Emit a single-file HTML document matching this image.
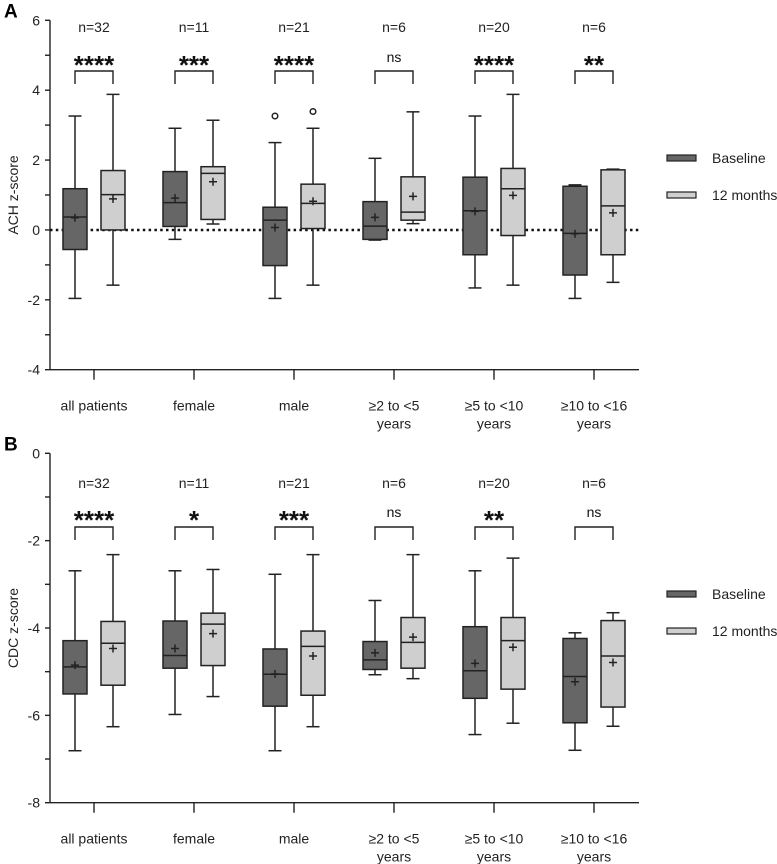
<!DOCTYPE html>
<html><head><meta charset="utf-8"><style>
body{margin:0;background:#fff}
svg{display:block;font-family:"Liberation Sans",sans-serif}
</style></head><body>
<svg id="c" width="777" height="864" viewBox="0 0 777 864"></svg>
<script>
const categories=[["all patients"],["female"],["male"],["≥2 to <5","years"],["≥5 to <10","years"],["≥10 to <16","years"]];
const nLabels=["n=32","n=11","n=21","n=6","n=20","n=6"];
const sigA=["****","***","****","ns","****","**"];
const sigB=["****","*","***","ns","**","ns"];
// [whiskerLow, q1, median, q3, whiskerHigh, mean]
const achBaseline=[[-1.96,-0.56,0.37,1.18,3.26,0.35],[-0.27,0.1,0.78,1.67,2.91,0.91],[-1.96,-1.02,0.28,0.65,2.5,0.07],[-0.29,-0.27,0.11,0.81,2.05,0.36],[-1.66,-0.71,0.55,1.51,3.26,0.53],[-1.96,-1.29,-0.1,1.25,1.29,-0.11]];
const ach12=[[-1.58,0,1.01,1.7,3.88,0.89],[0.17,0.3,1.62,1.81,3.14,1.38],[-1.58,0.04,0.76,1.31,2.91,0.82],[0.18,0.28,0.51,1.52,3.38,0.96],[-1.58,-0.16,1.18,1.76,3.88,0.99],[-1.5,-0.71,0.69,1.72,1.74,0.49]];
const achOutBaseline=[[],[],[3.26],[],[],[]];
const achOut12=[[],[],[3.39],[],[],[]];
const cdcBaseline=[[-6.81,-5.51,-4.89,-4.29,-2.69,-4.85],[-5.98,-4.92,-4.63,-3.84,-2.69,-4.47],[-6.81,-5.79,-5.06,-4.48,-2.77,-5.05],[-5.07,-4.95,-4.73,-4.31,-3.37,-4.57],[-6.44,-5.61,-4.98,-3.97,-2.69,-4.81],[-6.8,-6.17,-5.11,-4.24,-4.11,-5.23]];
const cdc12=[[-6.26,-5.31,-4.35,-3.85,-2.32,-4.47],[-5.57,-4.86,-3.91,-3.66,-2.66,-4.13],[-6.26,-5.54,-4.42,-4.07,-2.32,-4.64],[-5.16,-4.92,-4.33,-3.76,-2.32,-4.21],[-6.18,-5.4,-4.29,-3.76,-2.4,-4.44],[-6.25,-5.81,-4.64,-3.83,-3.65,-4.79]];
const ticksA=[6,4,2,0,-2,-4];
const ticksB=[0,-2,-4,-6,-8];

const svg=document.getElementById('c');
const NS='http://www.w3.org/2000/svg';
function mk(tag,at,parent,txt){const e=document.createElementNS(NS,tag);for(const k in at)e.setAttribute(k,at[k]);if(txt!==undefined)e.textContent=txt;(parent||svg).appendChild(e);return e;}

function panel(o){
  const g=mk('g',{});
  
  
  const y=v=>o.y0+(o.max-v)/(o.max-o.min)*(o.y1-o.y0);
  const xc=i=>94+100*i;
  const L=mk('text',{x:4,y:o.y0-3,'font-size':19,'font-weight':'bold'},g,o.letter);
  
  
  const ax=mk('g',{stroke:'#222','stroke-width':1.4},g);
  
  
  mk('line',{x1:50,y1:o.y0,x2:50,y2:o.y1},ax);
  mk('line',{x1:50,y1:o.y1,x2:639,y2:o.y1},ax);
  for(let v=o.min;v<=o.max;v++){mk('line',{x1:45,x2:50,y1:y(v),y2:y(v)},ax);}
  o.ticks.forEach(t=>{const e=mk('text',{x:40,y:y(t)+5,'font-size':14,'text-anchor':'end',fill:'#222'},g,String(t));
    
    });
  const yt=mk('text',{x:0,y:0,'font-size':14,'text-anchor':'middle',fill:'#222',transform:`translate(18,${(o.y0+o.y1)/2}) rotate(-90)`},g,o.title);
  
  
  if(o.zero){const z=mk('line',{x1:50,x2:639,y1:y(0),y2:y(0),stroke:'#111','stroke-width':2.5,'stroke-dasharray':'2.5 3.3'},g);
    
    }
  categories.forEach((c,i)=>{
    mk('line',{x1:xc(i),x2:xc(i),y1:o.y1,y2:o.y1+10,stroke:'#222','stroke-width':1.4},g);
    c.forEach((s,j)=>{const t=mk('text',{x:xc(i),y:o.y1+41+j*18,'font-size':14,'text-anchor':'middle',fill:'#222'},g,s);
      
      });
    const n=mk('text',{x:xc(i),y:o.nY,'font-size':14,'text-anchor':'middle',fill:'#222'},g,nLabels[i]);
    
    
    const sg=o.sig[i];const ns=sg==='ns';
    const st=mk('text',{x:xc(i),y:ns?o.sY:o.sY+12,'font-size':ns?14:26,'font-weight':ns?'normal':'bold','text-anchor':'middle',fill:'#111','letter-spacing':0},g,sg);
    
    
    const br=mk('path',{d:`M${xc(i)-19},${o.bY+13}V${o.bY}H${xc(i)+19}V${o.bY+13}`,fill:'none',stroke:'#222','stroke-width':1.4},g);
    
    
    [[o.base,'#666',-19,o.outB],[o.m12,'#cfcfcf',19,o.out12]].forEach(([arr,col,dx,out])=>{
      const d=arr[i];const cx=xc(i)+dx;
      const bg=mk('g',{stroke:'#222','stroke-width':1.5},g);
      
      
      mk('line',{x1:cx,x2:cx,y1:y(d[0]),y2:y(d[4])},bg);
      mk('line',{x1:cx-6.5,x2:cx+6.5,y1:y(d[0]),y2:y(d[0])},bg);
      mk('line',{x1:cx-6.5,x2:cx+6.5,y1:y(d[4]),y2:y(d[4])},bg);
      mk('rect',{x:cx-12,y:y(d[3]),width:24,height:y(d[1])-y(d[3]),fill:col},bg);
      mk('line',{x1:cx-12,x2:cx+12,y1:y(d[2]),y2:y(d[2])},bg);
      mk('path',{d:`M${cx-4},${y(d[5])}h8M${cx},${y(d[5])-4}v8`},bg);
      (out?out[i]:[]).forEach(v=>mk('circle',{cx:cx,cy:y(v),r:2.8,fill:'#fff'},bg));
    });
  });
  [['Baseline','#666',o.legY],['12 months','#cfcfcf',o.legY+37]].forEach(([t,c,ly])=>{
    const lg=mk('g',{},g);
    
    
    mk('rect',{x:667,y:ly-3,width:29,height:6,fill:c,stroke:'#222','stroke-width':1.2},lg);
    mk('text',{x:712,y:ly+5,'font-size':14,fill:'#222'},lg,t);
  });
}
panel({name:'panel-a-ach',letter:'A',title:'ACH z-score',y0:20.3,y1:369.7,max:6,min:-4,ticks:ticksA,zero:true,nY:32,sY:62,bY:71,sig:sigA,base:achBaseline,m12:ach12,outB:achOutBaseline,out12:achOut12,legY:158});
panel({name:'panel-b-cdc',letter:'B',title:'CDC z-score',y0:453.3,y1:802.7,max:0,min:-8,ticks:ticksB,zero:false,nY:488,sY:517,bY:527,sig:sigB,base:cdcBaseline,m12:cdc12,legY:594});
</script>
</body></html>
